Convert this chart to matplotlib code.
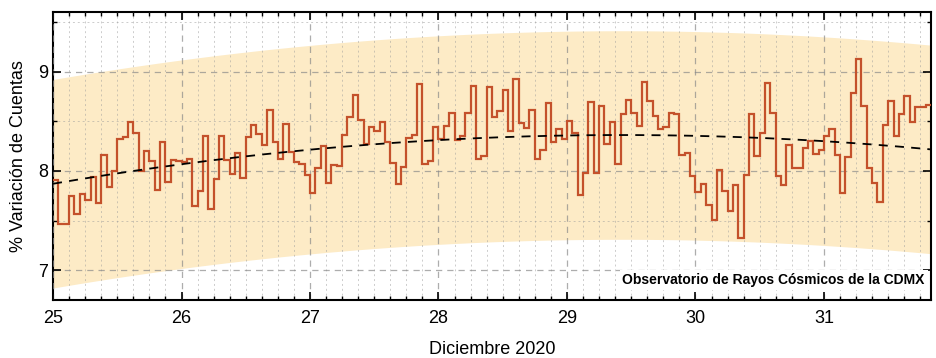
import numpy as np
import matplotlib
matplotlib.use("Agg")
import matplotlib.pyplot as plt
from matplotlib.ticker import MultipleLocator

# hourly counts variation (%), starting 25 Dec 2020 00:00
start_day = 25
hours_per_day = 24
variacion = [
    7.91, 7.47, 7.47, 7.75, 7.57, 7.77, 7.71, 7.94, 7.68, 8.16, 7.84, 8.00,
    8.32, 8.34, 8.49, 8.38, 8.00, 8.20, 8.10, 7.81, 8.29, 7.89, 8.11, 8.10,
    8.09, 8.12, 7.65, 7.80, 8.35, 7.62, 7.92, 8.35, 8.11, 7.97, 8.18, 7.93,
    8.34, 8.46, 8.37, 8.26, 8.61, 8.29, 8.12, 8.47, 8.19, 8.09, 8.07, 7.96,
    7.78, 8.03, 8.25, 7.88, 8.06, 8.05, 8.36, 8.54, 8.76, 8.51, 8.27, 8.44,
    8.40, 8.49, 8.29, 8.08, 7.87, 8.04, 8.33, 8.36, 8.87, 8.07, 8.10, 8.44,
    8.32, 8.45, 8.58, 8.31, 8.35, 8.58, 8.85, 8.12, 8.15, 8.84, 8.54, 8.60,
    8.81, 8.40, 8.93, 8.48, 8.43, 8.61, 8.12, 8.21, 8.68, 8.29, 8.42, 8.32,
    8.50, 8.38, 7.76, 7.98, 8.69, 7.98, 8.65, 8.27, 8.49, 8.07, 8.57, 8.71,
    8.58, 8.45, 8.90, 8.70, 8.55, 8.42, 8.44, 8.58, 8.57, 8.16, 8.18, 7.95,
    7.79, 7.87, 7.66, 7.51, 8.01, 7.80, 7.60, 7.86, 7.32, 7.96, 8.57, 8.15,
    8.38, 8.89, 8.58, 7.95, 7.86, 8.26, 8.03, 8.03, 8.23, 8.30, 8.17, 8.21,
    8.35, 8.42, 8.16, 7.78, 8.14, 8.78, 9.13, 8.65, 8.03, 7.88, 7.69, 8.46,
    8.70, 8.35, 8.57, 8.75, 8.49, 8.64, 8.64, 8.66,
]
band_half = 1.05  # half width of the shaded band

plt.rcParams['font.family'] = ['Liberation Sans', 'DejaVu Sans']

y = np.array(variacion)
t = start_day + np.arange(len(y) + 1) / hours_per_day
t_end = t[-1]

# quadratic trend fitted to the hourly values
tc = start_day + (np.arange(len(y)) + 0.5) / hours_per_day
coef = np.polyfit(tc, y, 2)
tt = np.linspace(start_day, t_end, 300)
trend = np.polyval(coef, tt)

fig = plt.figure(figsize=(9.37, 3.58), dpi=100)
ax = fig.add_axes([0.0566, 0.162, 0.9370, 0.8045])

ax.fill_between(tt, trend - band_half, trend + band_half, color='#fdebc6', lw=0, zorder=1)
ax.stairs(y, t, color='#c4512b', lw=1.6, zorder=4, baseline=None)
ax.plot(tt, trend, color='black', ls=(0, (5, 4)), lw=1.3, zorder=5)

ax.set_xlim(start_day, t_end)
ax.set_ylim(6.7, 9.6)
ax.xaxis.set_major_locator(MultipleLocator(1))
ax.xaxis.set_minor_locator(MultipleLocator(1 / 8))
ax.yaxis.set_major_locator(MultipleLocator(1))
ax.yaxis.set_minor_locator(MultipleLocator(0.5))

ax.grid(which='major', color='#8a8a8a', ls=(0, (5, 4)), lw=0.9, alpha=0.7, zorder=2)
ax.grid(which='minor', color='#9a9a9a', ls=(0, (2, 3)), lw=0.7, alpha=0.5, zorder=2)
ax.set_axisbelow(False)

ax.tick_params(which='both', direction='in', top=True, right=True, labelsize=13)
ax.tick_params(which='major', length=6, width=1.2)
ax.tick_params(which='minor', length=3, width=1.0)
ax.tick_params(axis='x', pad=7)
for s in ax.spines.values():
    s.set_linewidth(1.5)

ax.set_xlabel('Diciembre 2020', fontsize=13, labelpad=10)
ax.set_ylabel('% Variación de Cuentas', fontsize=13, labelpad=8)

ax.text(0.993, 0.045, 'Observatorio de Rayos Cósmicos de la CDMX', transform=ax.transAxes,
        ha='right', va='bottom', fontsize=10, fontweight='bold',
        zorder=6, bbox=dict(facecolor='white', edgecolor='none', pad=2))

fig.savefig('out.png', dpi=100)
